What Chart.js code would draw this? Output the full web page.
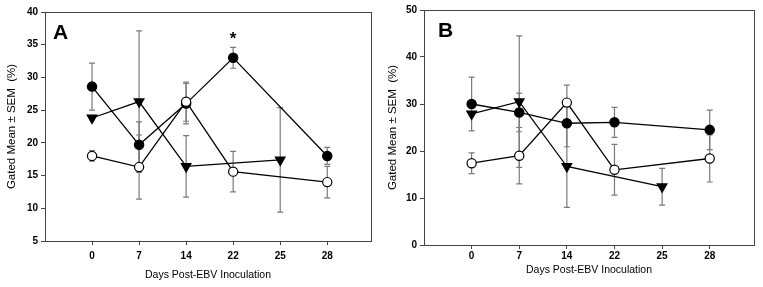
<!DOCTYPE html>
<html>
<head>
<meta charset="utf-8">
<script src="https://cdn.jsdelivr.net/npm/chart.js@4/dist/chart.umd.min.js"></script>
<style>
    html, body { margin: 0; padding: 0; background: #fff; }
    #wrap { position: relative; width: 763px; height: 287px; }
    .panel { position: absolute; top: 0; height: 287px; }
    #panelA { left: 0; width: 381px; }
    #panelB { left: 381px; width: 382px; }
</style>
</head>
<body>
<div id="wrap">
    <div class="panel" id="panelA"><canvas id="chartA"></canvas></div>
    <div class="panel" id="panelB"><canvas id="chartB"></canvas></div>
</div>
<script>
// x轴类别（接种后天数）
const dayLabels = ['0', '7', '14', '22', '25', '28'];

// A 图数据（均值 / SEM），null 表示该天无数据
const aFilled = [28.6, 19.7, 26.0, 33.0, null, 18.0];
const aFilledSem = [3.6, 3.5, 3.1, 1.6, null, 1.3];
const aTri = [23.8, 26.3, 16.4, null, 17.4, null];
const aTriSem = [0.3, 10.8, 4.7, null, 8.0, null];
const aOpen = [18.0, 16.3, 26.3, 15.6, null, 14.0];
const aOpenSem = [0.8, 4.9, 3.0, 3.1, null, 2.4];

// B 图数据
const bFilled = [30.0, 28.2, 25.9, 26.1, null, 24.5];
const bFilledSem = [5.7, 4.1, 5.0, 3.2, null, 4.2];
const bTri = [27.9, 30.5, 16.7, null, 12.4, null];
const bTriSem = [0.4, 14.0, 8.7, null, 3.9, null];
const bOpen = [17.4, 19.0, 30.3, 16.0, null, 18.4];
const bOpenSem = [2.2, 6.0, 3.7, 5.4, null, 5.0];

// 显著性标记（A 图第 22 天）
const aStars = [3];
const bStars = [];

const FONT = "'Liberation Sans', Arial, sans-serif";

// 误差线、边框、字母标记
const panelExtras = {
    id: 'panelExtras',
    beforeDatasetsDraw(chart, args, opts) {
        const ctx = chart.ctx;
        const xs = chart.scales.x, ys = chart.scales.y;
        ctx.save();
        ctx.strokeStyle = '#7a7a7a';
        ctx.lineWidth = 1.2;
        chart.data.datasets.forEach(ds => {
            ds.data.forEach(p => {
                const px = xs.getPixelForValue(p.x);
                const top = ys.getPixelForValue(p.y + p.sem);
                const bot = ys.getPixelForValue(p.y - p.sem);
                ctx.beginPath();
                ctx.moveTo(px, top); ctx.lineTo(px, bot);
                ctx.moveTo(px - 3, top); ctx.lineTo(px + 3, top);
                ctx.moveTo(px - 3, bot); ctx.lineTo(px + 3, bot);
                ctx.stroke();
            });
        });
        ctx.restore();
    },
    afterDraw(chart, args, opts) {
        const ctx = chart.ctx;
        const a = chart.chartArea;
        const xs = chart.scales.x, ys = chart.scales.y;
        ctx.save();
        ctx.strokeStyle = '#444';
        ctx.lineWidth = 1;
        ctx.strokeRect(Math.round(a.left) + 0.5, Math.round(a.top) + 0.5,
            Math.round(a.right - a.left), Math.round(a.bottom - a.top));
        ctx.fillStyle = '#000';
        ctx.font = 'bold 21px ' + FONT;
        ctx.textBaseline = 'alphabetic';
        ctx.fillText(opts.letter, a.left + opts.letterDx, a.top + 27);
        // 星号放在误差线顶部上方
        ctx.font = 'bold 17px ' + FONT;
        ctx.textAlign = 'center';
        const filled = chart.data.datasets.find(d => d.label === 'filled');
        opts.stars.forEach(i => {
            const p = filled.data.find(d => d.x === i);
            if (!p) return;
            ctx.fillText('*', xs.getPixelForValue(i), ys.getPixelForValue(p.y + p.sem) - 3);
        });
        ctx.restore();
    }
};

function toPoints(vals, sems) {
    const pts = [];
    vals.forEach((v, i) => {
        if (v !== null) pts.push({ x: i, y: v, sem: sems[i] });
    });
    return pts;
}

function makePanel(id, cfg) {
    const ctx = document.getElementById(id).getContext('2d');
    const lineStyle = { showLine: true, borderColor: '#000', borderWidth: 1.3, tension: 0 };
    return new Chart(ctx, {
        type: 'scatter',
        data: {
            // 第一个数据集画在最上层
            datasets: [
                Object.assign({
                    label: 'open',
                    data: toPoints(cfg.open, cfg.openSem),
                    pointStyle: 'circle', pointRadius: 4.6, pointBorderWidth: 1.2,
                    pointBackgroundColor: '#fff', pointBorderColor: '#000'
                }, lineStyle),
                Object.assign({
                    label: 'triangle',
                    data: toPoints(cfg.tri, cfg.triSem),
                    pointStyle: 'triangle', pointRadius: 5.5, pointRotation: 180,
                    pointBackgroundColor: '#000', pointBorderColor: '#000'
                }, lineStyle),
                Object.assign({
                    label: 'filled',
                    data: toPoints(cfg.filled, cfg.filledSem),
                    pointStyle: 'circle', pointRadius: 4.6,
                    pointBackgroundColor: '#000', pointBorderColor: '#000'
                }, lineStyle)
            ]
        },
        options: {
            responsive: true,
            maintainAspectRatio: false,
            animation: false,
            layout: { padding: { left: 0, right: cfg.padRight, top: cfg.padTop, bottom: 0 } },
            plugins: {
                legend: { display: false },
                tooltip: { enabled: false },
                panelExtras: { letter: cfg.letter, letterDx: cfg.letterDx, stars: cfg.stars }
            },
            scales: {
                x: {
                    type: 'linear',
                    min: -1,
                    max: 5.93,
                    afterBuildTicks: s => { s.ticks = dayLabels.map((_, i) => ({ value: i })); },
                    afterFit: s => { s.height = cfg.xHeight; },
                    grid: { drawOnChartArea: false, drawTicks: true, tickLength: 4, color: '#444' },
                    border: { display: true, color: '#444' },
                    ticks: {
                        color: '#000',
                        padding: cfg.xTickPad,
                        font: { family: FONT, size: 10, weight: 'bold' },
                        callback: v => dayLabels[Math.round(v)]
                    },
                    title: {
                        display: true,
                        text: 'Days Post-EBV Inoculation',
                        color: '#000',
                        padding: { top: 0, bottom: cfg.xTitleBottom },
                        font: { family: FONT, size: 10.5 }
                    }
                },
                y: {
                    min: cfg.yMin,
                    max: cfg.yMax,
                    afterFit: s => { s.width = cfg.yWidth; },
                    grid: { drawOnChartArea: false, drawTicks: true, tickLength: 4, color: '#444' },
                    border: { display: true, color: '#444' },
                    ticks: {
                        stepSize: cfg.yStep,
                        color: '#000',
                        padding: 3,
                        font: { family: FONT, size: 10, weight: 'bold' }
                    },
                    title: {
                        display: true,
                        text: 'Gated Mean \u00b1 SEM  (%)',
                        color: '#000',
                        padding: { top: 5, bottom: 0 },
                        font: { family: FONT, size: 11.5 }
                    }
                }
            }
        },
        plugins: [panelExtras]
    });
}

document.addEventListener('DOMContentLoaded', function() {
    makePanel('chartA', {
        filled: aFilled, filledSem: aFilledSem,
        tri: aTri, triSem: aTriSem,
        open: aOpen, openSem: aOpenSem,
        yMin: 5, yMax: 40, yStep: 5,
        letter: 'A', letterDx: 8, stars: aStars,
        padRight: 10, padTop: 12, yWidth: 45, xHeight: 46,
        xTickPad: 5, xTitleBottom: 6
    });
    makePanel('chartB', {
        filled: bFilled, filledSem: bFilledSem,
        tri: bTri, triSem: bTriSem,
        open: bOpen, openSem: bOpenSem,
        yMin: 0, yMax: 50, yStep: 10,
        letter: 'B', letterDx: 14, stars: bStars,
        padRight: 9, padTop: 10, yWidth: 43, xHeight: 42,
        xTickPad: 1, xTitleBottom: 11
    });
});
</script>
</body>
</html>
